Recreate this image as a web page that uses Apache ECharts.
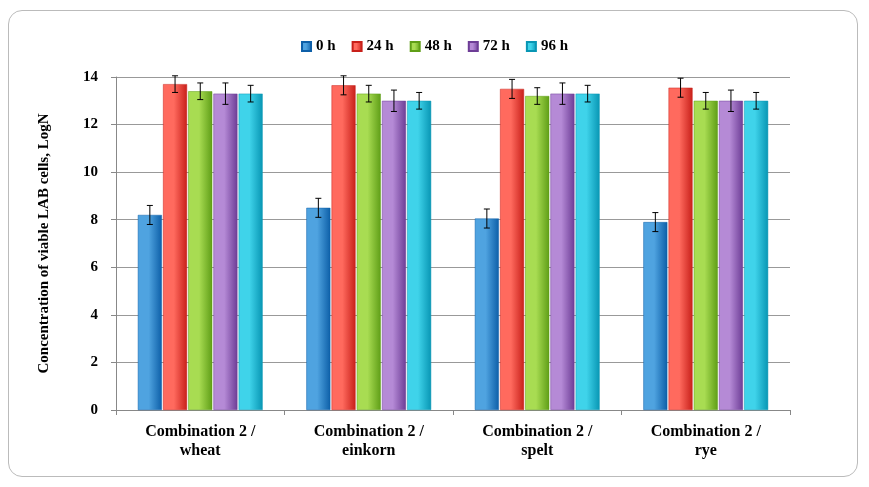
<!DOCTYPE html>
<html><head><meta charset="utf-8">
<script src="https://cdn.jsdelivr.net/npm/echarts@6/dist/echarts.min.js"></script>
<style>html,body{margin:0;padding:0;background:#fff}
#frame{position:absolute;left:8px;top:10px;width:850px;height:467px;border:1.5px solid #bbb;border-radius:14px;box-sizing:border-box}
#c{position:absolute;left:0;top:0;width:869px;height:487px}</style>
</head><body><div id="frame"></div><div id="c"></div>
<script>
const categories = ['Combination 2 /\nwheat','Combination 2 /\neinkorn','Combination 2 /\nspelt','Combination 2 /\nrye'];
const seriesNames = ['0 h','24 h','48 h','72 h','96 h'];
const v0 = [8.2, 8.5, 8.05, 7.9];
const v24 = [13.7, 13.65, 13.5, 13.55];
const v48 = [13.4, 13.3, 13.2, 13.0];
const v72 = [13.3, 13.0, 13.3, 13.0];
const v96 = [13.3, 13.0, 13.3, 13.0];
const e0 = [0.4, 0.4, 0.4, 0.4];
const e24 = [0.35, 0.4, 0.4, 0.4];
const e48 = [0.35, 0.35, 0.35, 0.35];
const e72 = [0.45, 0.45, 0.45, 0.45];
const e96 = [0.35, 0.35, 0.35, 0.35];
const values=[v0,v24,v48,v72,v96], errs=[e0,e24,e48,e72,e96];
const colors=[['#4fa3e0','#0d5fa8'],['#ff6a5e','#c8201a'],['#a8dc52','#5f9e17'],['#b58ad6','#6d3d96'],['#3fd3ea','#0896b4']];
const chart=echarts.init(document.getElementById('c'));
const font='Liberation Serif';
const series=[];
const n=5, barW=24, gapF=0.05;
values.forEach((v,i)=>{
  series.push({name:seriesNames[i],type:'bar',data:v,barWidth:barW,barGap:(gapF*100)+'%',
    itemStyle:{color:new echarts.graphic.LinearGradient(0,0,1,0,[{offset:0,color:colors[i][0]},{offset:0.45,color:colors[i][0]},{offset:1,color:colors[i][1]}]),borderColor:colors[i][1],borderWidth:0.5}});
});
values.forEach((v,i)=>{
  series.push({type:'custom',name:seriesNames[i]+' err',z:10,
    data:v.map((y,k)=>[k,y-errs[i][k],y+errs[i][k]]),
    renderItem:(params,api)=>{
      const k=api.value(0);
      const lo=api.coord([k,api.value(1)]), hi=api.coord([k,api.value(2)]);
      const total=n*barW+(n-1)*barW*gapF;
      const x=lo[0]-total/2+barW/2+i*barW*(1+gapF);
      const s={stroke:'#000',lineWidth:1};
      return {type:'group',children:[
        {type:'line',shape:{x1:x,y1:lo[1],x2:x,y2:hi[1]},style:s},
        {type:'line',shape:{x1:x-3,y1:lo[1],x2:x+3,y2:lo[1]},style:s},
        {type:'line',shape:{x1:x-3,y1:hi[1],x2:x+3,y2:hi[1]},style:s}]};
    }});
});
chart.setOption({
  animation:false,
  legend:{data:seriesNames,top:34,left:'center',icon:'rect',itemWidth:9,itemHeight:9,itemGap:16,
    textStyle:{fontFamily:font,fontWeight:'bold',fontSize:15,color:'#000'}},
  grid:{left:116,right:79,top:77,bottom:77},
  xAxis:{type:'category',data:categories,axisTick:{show:true,length:5},
    axisLine:{lineStyle:{color:'#888'}},
    axisLabel:{fontFamily:font,fontWeight:'bold',fontSize:16,color:'#000',lineHeight:19,margin:12}},
  yAxis:{type:'value',min:0,max:14,interval:2,
    name:'Concentration of viable LAB cells, LogN',nameLocation:'middle',nameGap:64,
    nameTextStyle:{fontFamily:font,fontWeight:'bold',fontSize:15,color:'#000'},
    axisLine:{show:true,lineStyle:{color:'#888'}},axisTick:{show:true},
    splitLine:{lineStyle:{color:'#999'}},
    axisLabel:{fontFamily:font,fontWeight:'bold',fontSize:15,color:'#000',margin:18}},
  series
});
</script></body></html>
